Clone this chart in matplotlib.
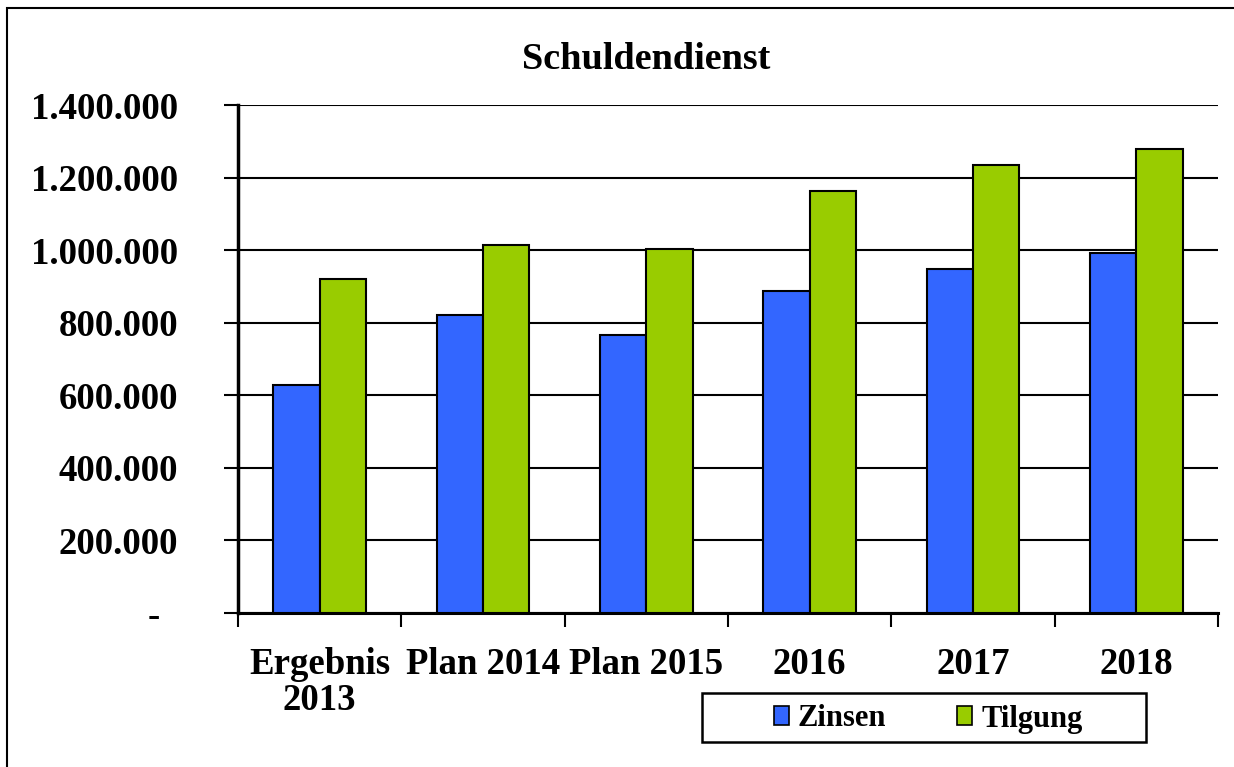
import matplotlib
matplotlib.use("Agg")
import matplotlib.pyplot as plt
import numpy as np
from matplotlib.patches import Rectangle

plt.rcParams['font.family'] = ['Liberation Serif', 'DejaVu Serif']
plt.rcParams['font.weight'] = 'bold'

# Data
categories = ['Ergebnis\n2013', 'Plan 2014', 'Plan 2015', '2016', '2017', '2018']
zinsen = [627000, 820000, 765000, 887000, 948000, 991000]
tilgung = [919000, 1014000, 1002000, 1163000, 1234000, 1279000]
y_ticks = [0, 200000, 400000, 600000, 800000, 1000000, 1200000, 1400000]
y_labels = ['-  ', '200.000', '400.000', '600.000', '800.000',
            '1.000.000', '1.200.000', '1.400.000']

fig = plt.figure(figsize=(12.34, 7.67), dpi=100)
ax = fig.add_axes([0.1929, 0.2014, 0.987 - 0.1929, 0.8631 - 0.2014])

x = np.arange(len(categories))
w = 0.283
ax.bar(x - w / 2, zinsen, w, color='#3366FF', edgecolor='black', linewidth=1.5,
       label='Zinsen', zorder=3)
ax.bar(x + w / 2, tilgung, w, color='#99CC00', edgecolor='black', linewidth=1.5,
       label='Tilgung', zorder=3)

ax.set_xlim(-0.5, len(categories) - 0.5)
ax.set_ylim(0, 1400000)

ax.set_yticks(y_ticks)
ax.set_yticklabels(y_labels, fontsize=26.5, fontweight='bold')
ax.tick_params(axis='y', direction='out', length=10, width=1.5, pad=33)
ax.yaxis.grid(True, color='black', linewidth=1.5, zorder=0)

ax.set_xticks(x)
ax.set_xticklabels(categories, fontsize=26.5, fontweight='bold', linespacing=1.02)
ax.tick_params(axis='x', which='major', length=0, pad=25)
ax.set_xticks(np.arange(-0.5, len(categories)), minor=True)
ax.tick_params(axis='x', which='minor', direction='out', length=10, width=1.5)

for s in ['top', 'right']:
    ax.spines[s].set_visible(False)
ax.spines['left'].set_linewidth(2.5)
ax.spines['bottom'].set_linewidth(2.2)

fig.text(0.524, 0.922, 'Schuldendienst', ha='center', va='center',
         fontsize=27.5, fontweight='bold')

leg = fig.legend(loc='center', bbox_to_anchor=(928 / 1234, 1 - 719 / 767),
                 ncol=2, fontsize=22, frameon=False,
                 handlelength=0.5, handleheight=0.55, handletextpad=0.3,
                 columnspacing=2.3, borderpad=0.2, borderaxespad=0)
for t in leg.get_texts():
    t.set_fontweight('bold')
for h in leg.legend_handles:
    h.set_linewidth(1.2)

# legend box drawn separately (wide horizontal padding)
fig.patches.append(Rectangle((702 / 1234, 1 - 742 / 767), 444 / 1234, 49 / 767,
                             transform=fig.transFigure, fill=False,
                             edgecolor='black', linewidth=1.8))

# outer chart border
fig.patches.append(Rectangle((7 / 1234, -0.1), 1.2, 1 - 8 / 767 + 0.1,
                             transform=fig.transFigure, fill=False,
                             edgecolor='black', linewidth=1.5))

fig.savefig('out.png', dpi=100)
